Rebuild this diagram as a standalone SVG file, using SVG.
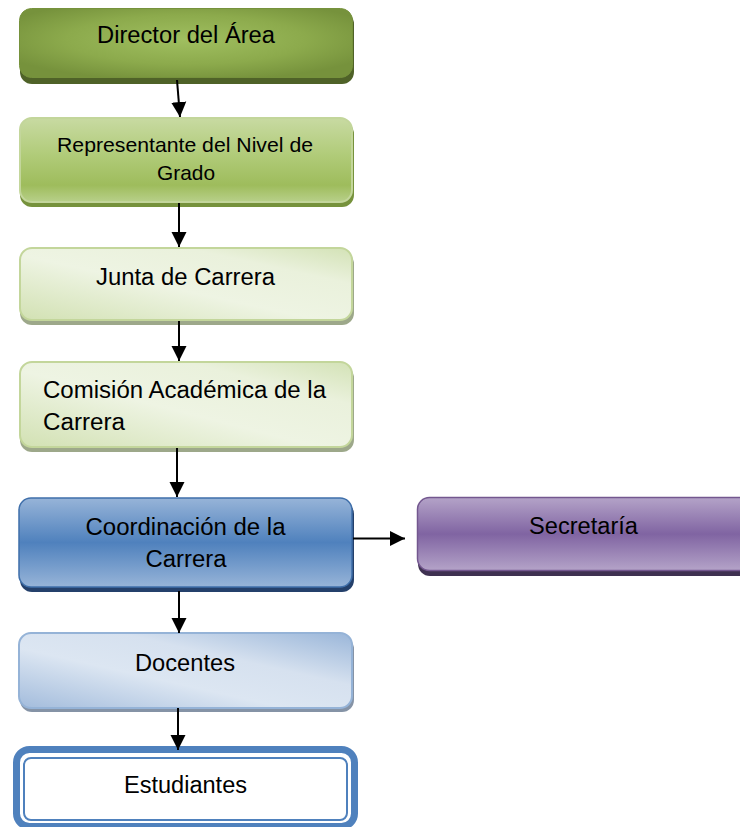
<svg xmlns="http://www.w3.org/2000/svg" width="740" height="827" viewBox="0 0 740 827">
<style>
text{font-family:"Liberation Sans",Arial,sans-serif;font-size:23px;fill:#000}
.sm{font-size:21px}
.conn line{stroke:#000;stroke-width:2;marker-end:url(#ah)}
</style>
<defs>
<marker id="ah" markerUnits="userSpaceOnUse" markerWidth="16" markerHeight="16" refX="15" refY="8" orient="auto">
<path d="M0,0.5 L15,8 L0,15.5 Z" fill="#000"/>
</marker>
<radialGradient id="gDir" cx="50%" cy="45%" r="60%">
<stop offset="0" stop-color="#A0BF60"/>
<stop offset="0.6" stop-color="#8CAA4C"/>
<stop offset="1" stop-color="#76923C"/>
</radialGradient>
<linearGradient id="gRep" x1="0" y1="0" x2="0" y2="1">
<stop offset="0" stop-color="#C8DAA2"/>
<stop offset="0.45" stop-color="#B0CB78"/>
<stop offset="0.8" stop-color="#9EBC5C"/>
<stop offset="1" stop-color="#B8D08A"/>
</linearGradient>
<linearGradient id="gLight" x1="0" y1="1" x2="1" y2="0">
<stop offset="0" stop-color="#D2E1B3"/>
<stop offset="0.45" stop-color="#EEF4E3"/>
<stop offset="0.75" stop-color="#EAF1DC"/>
<stop offset="1" stop-color="#D3E2B6"/>
</linearGradient>
<linearGradient id="gBlue" x1="0" y1="0" x2="0" y2="1">
<stop offset="0" stop-color="#97B4D8"/>
<stop offset="0.5" stop-color="#4F81BD"/>
<stop offset="1" stop-color="#97B4D8"/>
</linearGradient>
<linearGradient id="gPurp" x1="0" y1="0" x2="0" y2="1">
<stop offset="0" stop-color="#B4A3C8"/>
<stop offset="0.5" stop-color="#8064A2"/>
<stop offset="1" stop-color="#B4A3C8"/>
</linearGradient>
<linearGradient id="gDoc" x1="0" y1="1" x2="1" y2="0">
<stop offset="0" stop-color="#A3BCDC"/>
<stop offset="0.4" stop-color="#DCE6F2"/>
<stop offset="0.65" stop-color="#D6E1EF"/>
<stop offset="1" stop-color="#9AB6D9"/>
</linearGradient>
</defs>

<g id="director">
<rect x="20" y="12" width="334" height="72" rx="12" fill="#4F6228"/>
<rect x="19.5" y="8.5" width="333" height="69" rx="12" fill="url(#gDir)" stroke="#76923C" stroke-width="1"/>
<text x="186" y="43" text-anchor="middle" textLength="178" lengthAdjust="spacingAndGlyphs">Director del Área</text>
</g>

<g id="representante">
<rect x="20" y="122" width="334" height="85" rx="12" fill="#76923C"/>
<rect x="20" y="118" width="332" height="84" rx="12" fill="url(#gRep)" stroke="#C3D69B" stroke-width="2"/>
<text class="sm" x="185" y="152" text-anchor="middle" textLength="256" lengthAdjust="spacingAndGlyphs">Representante del Nivel de</text>
<text class="sm" x="186" y="180" text-anchor="middle" textLength="58" lengthAdjust="spacingAndGlyphs">Grado</text>
</g>

<g id="junta">
<rect x="20" y="252" width="334" height="73" rx="12" fill="#9DA88A"/>
<rect x="20" y="248" width="332" height="72" rx="12" fill="url(#gLight)" stroke="#C3D69B" stroke-width="2"/>
<text x="185.5" y="285" text-anchor="middle" textLength="179" lengthAdjust="spacingAndGlyphs">Junta de Carrera</text>
</g>

<g id="comision">
<rect x="20" y="366" width="334" height="86" rx="12" fill="#9DA88A"/>
<rect x="20" y="362" width="332" height="85" rx="12" fill="url(#gLight)" stroke="#C3D69B" stroke-width="2"/>
<text x="43" y="398" textLength="283" lengthAdjust="spacingAndGlyphs">Comisión Académica de la</text>
<text x="43" y="430" textLength="82" lengthAdjust="spacingAndGlyphs">Carrera</text>
</g>

<g id="coordinacion">
<rect x="20" y="502" width="334" height="90" rx="12" fill="#24406B"/>
<rect x="19" y="498" width="333" height="89" rx="12" fill="url(#gBlue)" stroke="#3F6FAA" stroke-width="1.5"/>
<text x="185.5" y="535" text-anchor="middle" textLength="200" lengthAdjust="spacingAndGlyphs">Coordinación de la</text>
<text x="186" y="567" text-anchor="middle" textLength="81" lengthAdjust="spacingAndGlyphs">Carrera</text>
</g>

<g id="secretaria">
<rect x="418" y="502" width="340" height="74" rx="12" fill="#3F3151"/>
<rect x="417.5" y="497.5" width="340" height="73" rx="12" fill="url(#gPurp)" stroke="#73578F" stroke-width="1.5"/>
<text x="583.5" y="534" text-anchor="middle" textLength="109" lengthAdjust="spacingAndGlyphs">Secretaría</text>
</g>

<g id="docentes">
<rect x="20" y="637" width="334" height="75" rx="12" fill="#8593A6"/>
<rect x="19" y="633" width="333" height="75" rx="12" fill="url(#gDoc)" stroke="#95B3D7" stroke-width="2"/>
<text x="185" y="671" text-anchor="middle" textLength="100" lengthAdjust="spacingAndGlyphs">Docentes</text>
</g>

<g id="estudiantes">
<rect x="16.5" y="749.5" width="338" height="77" rx="13" fill="#FFFFFF" stroke="#4F81BD" stroke-width="7"/>
<rect x="24" y="758" width="323" height="62" rx="7" fill="#FFFFFF" stroke="#4F81BD" stroke-width="2"/>
<text x="185.5" y="793" text-anchor="middle" textLength="123" lengthAdjust="spacingAndGlyphs">Estudiantes</text>
</g>

<g id="connectors" class="conn">
<line x1="177" y1="80" x2="180" y2="117"/>
<line x1="179" y1="203" x2="179" y2="247"/>
<line x1="179" y1="321" x2="179" y2="361"/>
<line x1="177" y1="448" x2="177" y2="497"/>
<line x1="353" y1="538.5" x2="405" y2="538.5"/>
<line x1="179" y1="591" x2="179" y2="633"/>
<line x1="178" y1="708" x2="178" y2="750"/>
</g>
</svg>
